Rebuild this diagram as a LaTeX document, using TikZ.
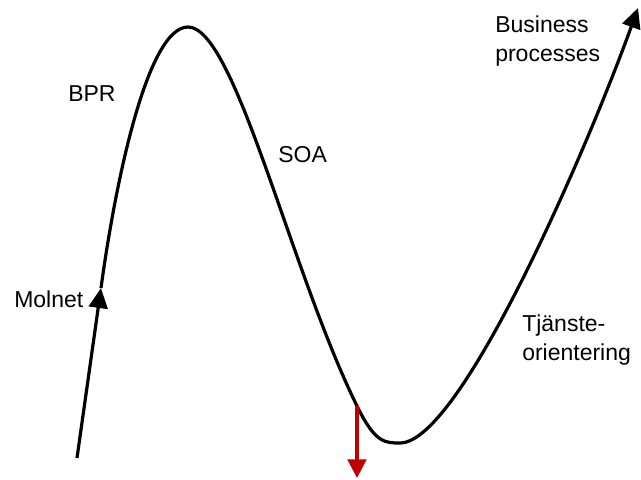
\documentclass[tikz,border=0pt]{standalone}
\usepackage{fontspec}
\setmainfont{Liberation Sans}
\usetikzlibrary{arrows.meta}

\tikzset{
  hype/.style={line width=2.4pt, black},
  hypetip/.style={-{Triangle[length=15pt,width=14pt]}},
  label/.style={inner sep=0pt, font=\fontsize{17.25}{21.5}\selectfont}
}

\begin{document}
\begin{tikzpicture}[x=0.75pt,y=-0.75pt]
\useasboundingbox (0,0) rectangle (641,479);

\coordinate (start) at (77,458);
\coordinate (cloud) at (101,288);
\coordinate (peak) at (188,27);
\coordinate (drop) at (357,406);
\coordinate (trough) at (400,443);
\coordinate (top) at (638,8);

% the hype curve
\draw [hype, hypetip] (start) -- (cloud);
\draw [hype, hypetip] (cloud) .. controls (116,178) and (148,27) .. (peak)
  .. controls (235,27) and (290,270) .. (drop)
  .. controls (375,443) and (385,443) .. (trough)
  .. controls (460,443) and (586,152) .. (top);

\coordinate (fall) at (357,478);
\draw [line width=2.4pt, color={rgb,255:red,192;green,0;blue,0},
  -{Triangle[length=14pt,width=14pt]}] (drop) -- (fall);

\node (molnet) [label, anchor=base west] at (14,307) {Molnet};
\node (bpr) [label, anchor=base west] at (68,101) {BPR};
\node (soa) [label, anchor=base west] at (278,162) {SOA};
\node (bp) [label, anchor=north west, align=left] at (495,16) {Business\\processes};
\node (to) [label, anchor=north west, align=left] at (522,315) {Tjänste-\\orientering};

\end{tikzpicture}
\end{document}
